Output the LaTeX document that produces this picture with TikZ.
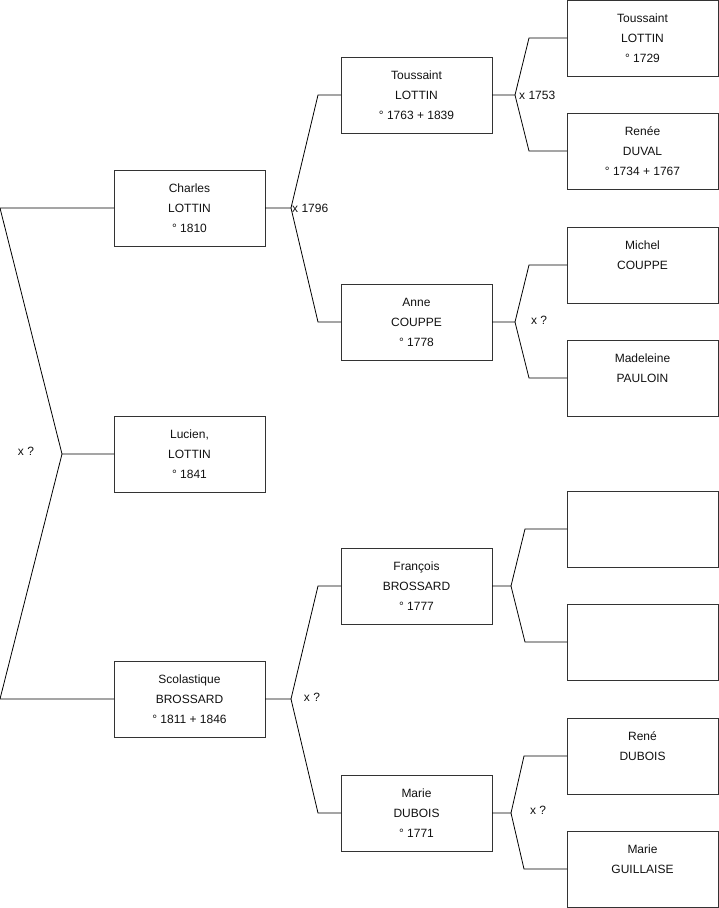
\documentclass[tikz,border=0pt]{standalone}
\usepackage{fontspec}
\setmainfont{Liberation Sans}
\usetikzlibrary{positioning}
\definecolor{boxline}{HTML}{333333}
\definecolor{textmain}{HTML}{111111}

\begin{document}
\begin{tikzpicture}[
    x=1pt, y=-1pt,
    person/.style={rectangle, draw=boxline, line width=0.8pt, text=textmain,
                   minimum width=151pt, minimum height=76pt, inner sep=0pt,
                   outer sep=0pt, align=center, font=\fontsize{12}{20}\selectfont},
    link/.style={line width=0.8pt, black},
    union/.style={text=textmain, font=\fontsize{12}{14}\selectfont, inner sep=1pt}
  ]
    \useasboundingbox (0,0) rectangle (719,908);

    % generation 1
    \node[person] (charles) at (189.5,208) {Charles\\LOTTIN\\° 1810};
    \node[person] (lucien) at (189.5,454) {Lucien,\\LOTTIN\\° 1841};
    \node[person] (scolastique) at (189.5,699) {Scolastique\\BROSSARD\\° 1811 + 1846};

    % generation 2
    \node[person] (toussaint) at (416.5,95) {Toussaint\\LOTTIN\\° 1763 + 1839};
    \node[person] (anne) at (416.5,322) {Anne\\COUPPE\\° 1778};
    \node[person] (francois) at (416.5,586) {François\\BROSSARD\\° 1777};
    \node[person] (marie) at (416.5,813) {Marie\\DUBOIS\\° 1771};

    % generation 3
    \node[person] (toussaintp) at (642.5,38) {Toussaint\\LOTTIN\\° 1729};
    \node[person, below=37pt of toussaintp] (renee) {Renée\\DUVAL\\° 1734 + 1767};
    \node[person, below=38pt of renee] (michel) {Michel\\COUPPE\\\mbox{}};
    \node[person, below=37pt of michel] (madeleine) {Madeleine\\PAULOIN\\\mbox{}};
    \node[person, below=75pt of madeleine] (brossardp) {};
    \node[person, below=37pt of brossardp] (brossardm) {};
    \node[person, below=38pt of brossardm] (rene) {René\\DUBOIS\\\mbox{}};
    \node[person, below=37pt of rene] (guillaise) {Marie\\GUILLAISE\\\mbox{}};

    % forks
    \coordinate (froot) at (62,454);
    \coordinate (fcharles) at (291,208);
    \coordinate (fscol) at (291,699);
    \coordinate (ftous) at (515,95);
    \coordinate (fanne) at (515,322);
    \coordinate (ffran) at (511,586);
    \coordinate (fmarie) at (511,813);

    \draw[link] (charles.west) -- ++(-114,0) -- (froot) -- (lucien.west);
    \draw[link] (froot) -- ([xshift=-114pt]scolastique.west) -- (scolastique.west);
    \node[union] (uroot) at (26,451) {x ?};

    \draw[link] (charles.east) -- (fcharles) -- ([xshift=-23pt]toussaint.west) -- (toussaint.west);
    \draw[link] (fcharles) -- ([xshift=-23pt]anne.west) -- (anne.west);
    \node[union, anchor=west] (ucharles) at (fcharles) {x 1796};

    \draw[link] (scolastique.east) -- (fscol) -- ([xshift=-23pt]francois.west) -- (francois.west);
    \draw[link] (fscol) -- ([xshift=-23pt]marie.west) -- (marie.west);
    \node[union] (uscol) at (312,697) {x ?};

    \draw[link] (toussaint.east) -- (ftous) -- ([xshift=-38pt]toussaintp.west) -- (toussaintp.west);
    \draw[link] (ftous) -- ([xshift=-38pt]renee.west) -- (renee.west);
    \node[union, anchor=west] (utous) at ([xshift=3pt]ftous) {x 1753};

    \draw[link] (anne.east) -- (fanne) -- ([xshift=-38pt]michel.west) -- (michel.west);
    \draw[link] (fanne) -- ([xshift=-38pt]madeleine.west) -- (madeleine.west);
    \node[union] (uanne) at (539,320) {x ?};

    \draw[link] (francois.east) -- (ffran) -- ([xshift=-42pt]brossardp.west) -- (brossardp.west);
    \draw[link] (ffran) -- ([xshift=-42pt]brossardm.west) -- (brossardm.west);

    \draw[link] (marie.east) -- (fmarie) -- ([xshift=-43pt]rene.west) -- (rene.west);
    \draw[link] (fmarie) -- ([xshift=-43pt]guillaise.west) -- (guillaise.west);
    \node[union] (umarie) at (538,810) {x ?};
  \end{tikzpicture}
\end{document}
